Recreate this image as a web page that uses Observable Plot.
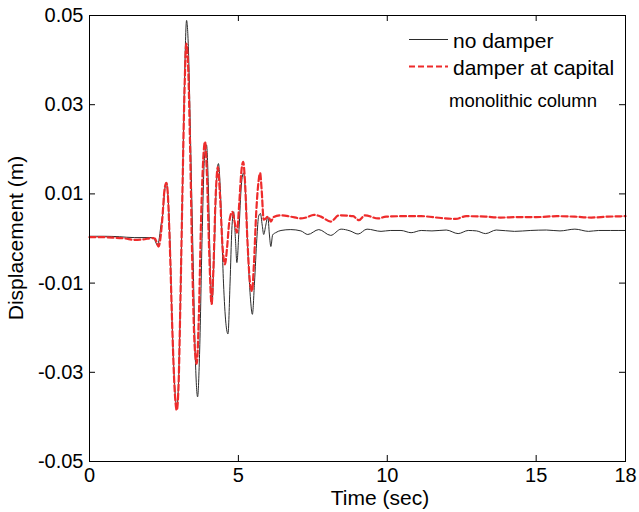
<!DOCTYPE html>
<html><head><meta charset="utf-8">
<script src="https://cdn.jsdelivr.net/npm/d3@7"></script>
<script src="https://cdn.jsdelivr.net/npm/@observablehq/plot@0.6"></script>
<style>
body{margin:0;background:#fff;}
#wrap{position:relative;width:639px;height:512px;font-family:"Liberation Sans",Arial,sans-serif;color:#000;background:#fff;}
#overlay{position:absolute;left:0;top:0;pointer-events:none;}
</style></head><body>
<div id="wrap"></div>
<script>
const xTicks = [0, 5, 10, 15, 18];
const yTicks = [-0.05, -0.03, -0.01, 0.01, 0.03, 0.05];
const yTickLabels = ["-0.05", "-0.03", "-0.01", "0.01", "0.03", "0.05"];
const seriesNames = ["no damper", "damper at capital"];
const note = "monolithic column";
const xLabel = "Time (sec)";
const yLabel = "Displacement (m)";

const tNoDamper = [0,0.5,1.0,1.5,2.0,2.15,2.22,2.28,2.33,2.40,2.47,2.53,2.58,2.63,2.70,2.78,2.87,2.93,2.98,3.05,3.12,3.19,3.26,3.32,3.40,3.48,3.56,3.63,3.70,3.78,3.86,3.93,3.99,4.05,4.11,4.18,4.26,4.33,4.40,4.50,4.58,4.65,4.72,4.78,4.84,4.90,4.95,5.02,5.10,5.17,5.24,5.32,5.40,5.47,5.54,5.62,5.68,5.74,5.80,5.85,5.92,5.99,6.04,6.09,6.15,6.25,6.43,6.76,7.10,7.33,7.70,8.10,8.45,8.75,9.02,9.32,9.79,10.1,10.46,10.8,11.14,11.5,11.98,12.38,12.72,13.0,13.3,13.66,14.27,14.8,15.34,15.8,16.3,16.76,17.1,17.5,18];
const dNoDamper = [0.0005,0.0005,0.0004,0.0002,0.0002,0.0002,-0.0008,-0.0015,-0.0005,0.003,0.006,0.011,0.0125,0.010,0.0,-0.02,-0.034,-0.038,-0.034,-0.015,0.01,0.035,0.0489,0.043,0.02,-0.005,-0.028,-0.0355,-0.025,0.0,0.018,0.021,0.012,-0.005,-0.0147,-0.005,0.012,0.0168,0.010,-0.010,-0.019,-0.0214,-0.01,0.002,0.006,0.0,-0.0054,0.002,0.012,0.0147,0.010,-0.003,-0.013,-0.017,-0.010,0.0,0.005,0.0056,0.003,0.0009,0.003,0.0049,0.001,-0.0018,0.0008,0.0013,0.0018,0.002,0.0017,0.0009,0.002,0.0007,0.0021,0.0017,0.001,0.0021,0.0016,0.0018,0.0018,0.0013,0.0018,0.0017,0.0019,0.0011,0.0018,0.0017,0.0011,0.0019,0.0016,0.0018,0.0019,0.0017,0.0021,0.0016,0.0018,0.0018,0.0018];

const tCapital = [0,0.4,0.8,1.2,1.5,1.8,2.1,2.2,2.26,2.32,2.37,2.44,2.52,2.58,2.63,2.70,2.78,2.86,2.93,2.99,3.05,3.12,3.19,3.25,3.31,3.38,3.45,3.53,3.60,3.67,3.75,3.83,3.88,3.94,4.02,4.10,4.16,4.24,4.31,4.38,4.47,4.55,4.62,4.70,4.80,4.88,4.95,5.03,5.10,5.16,5.22,5.30,5.40,5.46,5.52,5.60,5.68,5.73,5.78,5.85,5.92,5.99,6.04,6.09,6.18,6.43,6.76,7.10,7.27,7.54,7.77,8.10,8.38,8.85,9.05,9.25,9.69,9.96,10.5,11.14,11.81,12.3,12.65,13.3,13.8,14.4,15.0,15.7,16.3,16.85,17.4,18];
const dCapital = [0.0003,0.0003,0.0002,0.0,-0.0003,-0.0002,0.0001,0.0,-0.001,-0.0018,-0.0005,0.004,0.011,0.0125,0.010,-0.002,-0.02,-0.034,-0.0385,-0.033,-0.015,0.01,0.033,0.0437,0.039,0.02,-0.005,-0.024,-0.0281,-0.018,0.005,0.019,0.0217,0.015,-0.003,-0.0147,-0.007,0.010,0.016,0.010,-0.002,-0.0058,-0.002,0.004,0.006,0.0035,0.0013,0.008,0.015,0.0172,0.013,0.0,-0.0105,-0.0118,-0.006,0.006,0.013,0.0147,0.011,0.0042,0.0045,0.0049,0.0045,0.0038,0.0048,0.0052,0.0049,0.0045,0.0047,0.0053,0.0049,0.0038,0.0052,0.005,0.0041,0.0052,0.0045,0.0049,0.005,0.005,0.0046,0.0044,0.005,0.0049,0.0047,0.0048,0.0048,0.005,0.0049,0.0047,0.0049,0.005];

const colors = ["#2b2b2b", "#ee2b2b"];

const noDamper = tNoDamper.map((t, i) => ({t, d: dNoDamper[i]}));
const capital = tCapital.map((t, i) => ({t, d: dCapital[i]}));

const W = 639, H = 512;
const M = {top: 15, right: 14, bottom: 51, left: 89};
const innerW = W - M.left - M.right;
const innerH = H - M.top - M.bottom;
const tk = 6;

const chart = Plot.plot({
  width: W, height: H,
  marginTop: M.top, marginRight: M.right, marginBottom: M.bottom, marginLeft: M.left,
  style: {fontFamily: '"Liberation Sans", Arial, sans-serif', fontSize: "20px", background: "white", color: "black"},
  x: {domain: [0, 18]},
  y: {domain: [-0.05, 0.05]},
  marks: [
    Plot.line(noDamper, {x: "t", y: "d", stroke: colors[0], strokeWidth: 1, curve: "monotone-x"}),
    Plot.line(capital, {x: "t", y: "d", stroke: colors[1], strokeWidth: 2.2, strokeDasharray: "6,3", curve: "monotone-x"}),
    Plot.frame({stroke: "black", strokeWidth: 1}),
    Plot.tickX(xTicks, {x: d => d, insetTop: innerH - tk, stroke: "black"}),
    Plot.tickX(xTicks, {x: d => d, insetBottom: innerH - tk, stroke: "black"}),
    Plot.tickY(yTicks, {y: d => d, insetRight: innerW - tk, stroke: "black"}),
    Plot.tickY(yTicks, {y: d => d, insetLeft: innerW - tk, stroke: "black"}),
    Plot.axisX({ticks: xTicks, tickSize: 0, tickPadding: 6, label: null, tickFormat: d => String(d)}),
    Plot.axisY({ticks: yTicks, tickSize: 0, tickPadding: 6, label: null, tickFormat: d => yTickLabels[yTicks.indexOf(d)]})
  ]
});

const wrap = document.getElementById("wrap");
wrap.appendChild(chart);

const ns = "http://www.w3.org/2000/svg";
const ov = document.createElementNS(ns, "svg");
ov.setAttribute("id", "overlay");
ov.setAttribute("width", W);
ov.setAttribute("height", H);
ov.setAttribute("font-family", '"Liberation Sans", Arial, sans-serif');
function el(name, attrs, text) {
  const e = document.createElementNS(ns, name);
  for (const k in attrs) e.setAttribute(k, attrs[k]);
  if (text != null) e.textContent = text;
  ov.appendChild(e);
  return e;
}
// legend
el("line", {x1: 409, x2: 448, y1: 39.5, y2: 39.5, stroke: colors[0], "stroke-width": 1});
el("text", {x: 453, y: 47.5, "font-size": 21}, seriesNames[0]);
el("line", {x1: 409, x2: 448, y1: 66.5, y2: 66.5, stroke: colors[1], "stroke-width": 2.2, "stroke-dasharray": "6,3"});
el("text", {x: 453, y: 75, "font-size": 21}, seriesNames[1]);
el("text", {x: 449, y: 107, "font-size": 18.5}, note);
// axis labels
el("text", {x: 380, y: 505, "font-size": 21, "text-anchor": "middle"}, xLabel);
el("text", {transform: "translate(23,238) rotate(-90)", "font-size": 21, "text-anchor": "middle"}, yLabel);
wrap.appendChild(ov);
</script>
</body></html>
